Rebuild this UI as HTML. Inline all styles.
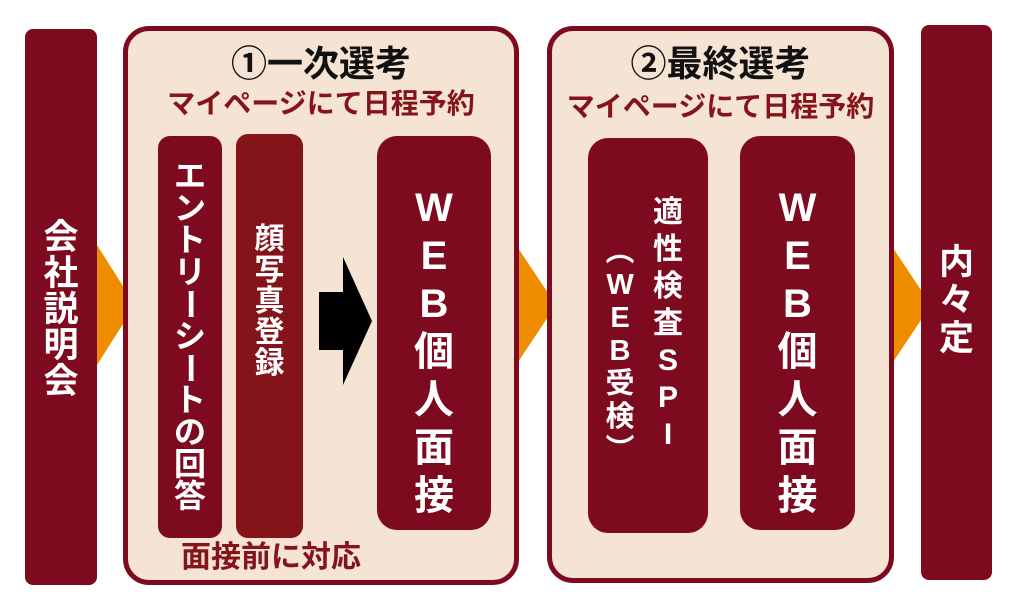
<!DOCTYPE html>
<html><head><meta charset="utf-8"><style>
body{margin:0;width:1015px;height:609px;background:#fff;position:relative;overflow:hidden;font-family:"Liberation Sans","Noto Sans CJK JP",sans-serif;font-weight:bold}
.a{position:absolute}
.r{background:#7d0a1e}
.col{position:absolute;display:flex;flex-direction:column;align-items:center;color:#fff;line-height:1}
.box{position:absolute;background:#f5e4d4;border:5px solid #7d0a1e;border-radius:26px;box-sizing:border-box}
.t{position:absolute;text-align:center;white-space:nowrap;line-height:1}
.rot{display:inline-block;transform:rotate(90deg)}
</style></head><body>
<svg class="a" style="left:0;top:0" width="1015" height="609">
<polygon points="97,245 135,305 97,365" fill="#ef8d00"/>
<polygon points="516,245 556,305 516,365" fill="#ef8d00"/>
<polygon points="891,245 931,305 891,365" fill="#ef8d00"/>
</svg>
<div class="a r" style="left:25px;top:29px;width:72px;height:556px;border-radius:8px"></div>
<div class="a r" style="left:921px;top:25px;width:71px;height:555px;border-radius:8px"></div>
<div class="box" style="left:123px;top:26px;width:396px;height:559px"></div>
<div class="box" style="left:547px;top:26px;width:347px;height:557px"></div>
<div class="t" style="left:124px;width:394px;top:46px;font-size:36px;color:#111">①一次選考</div>
<div class="t" style="left:124px;width:394px;top:90px;font-size:28px;color:#84141a">マイページにて日程予約</div>
<div class="t" style="left:548px;width:345px;top:46px;font-size:36px;color:#111">②最終選考</div>
<div class="t" style="left:548px;width:345px;top:93px;font-size:28px;color:#84141a">マイページにて日程予約</div>
<div class="t" style="left:130px;width:282px;top:543px;font-size:30px;color:#84141a">面接前に対応</div>
<div class="a r" style="left:158px;top:136px;width:64px;height:402px;border-radius:12px"></div>
<div class="a" style="left:236px;top:134px;width:67px;height:404px;border-radius:12px;background:#84141a"></div>
<div class="a r" style="left:377px;top:136px;width:114px;height:394px;border-radius:20px"></div>
<div class="a r" style="left:588px;top:138px;width:120px;height:395px;border-radius:20px"></div>
<div class="a r" style="left:740px;top:136px;width:115px;height:394px;border-radius:20px"></div>
<svg class="a" style="left:0;top:0" width="1015" height="609"><polygon points="319,292 343,292 343,257 372,321 343,385 343,350 319,350" fill="#000"/></svg>
<div class="col" style="left:25px;width:72px;top:220px;font-size:35px;gap:1px"><span>会</span><span>社</span><span>説</span><span>明</span><span>会</span></div>
<div class="col" style="left:921px;width:71px;top:245px;font-size:35px;gap:3px"><span>内</span><span>々</span><span>定</span></div>
<div class="col" style="left:158px;width:64px;top:160px;font-size:32px;gap:0px"><span>エ</span><span>ン</span><span>ト</span><span>リ</span><span class="rot">ー</span><span>シ</span><span class="rot">ー</span><span>ト</span><span>の</span><span>回</span><span>答</span></div>
<div class="col" style="left:236px;width:67px;top:225px;font-size:30px;gap:1px"><span>顔</span><span>写</span><span>真</span><span>登</span><span>録</span></div>
<div class="col" style="left:377px;width:114px;top:188px;font-size:40px;gap:8px"><span>W</span><span>E</span><span>B</span><span>個</span><span>人</span><span>面</span><span>接</span></div>
<div class="col" style="left:740px;width:115px;top:188px;font-size:40px;gap:8px"><span>W</span><span>E</span><span>B</span><span>個</span><span>人</span><span>面</span><span>接</span></div>
<div class="col" style="left:650px;width:36px;top:198px;font-size:30px;gap:7px"><span>適</span><span>性</span><span>検</span><span>査</span><span>S</span><span>P</span><span>I</span></div>
<div class="col" style="left:600px;width:40px;top:238px;font-size:29px;gap:4px"><span>︵</span><span>W</span><span>E</span><span>B</span><span>受</span><span>検</span><span>︶</span></div>
</body></html>
